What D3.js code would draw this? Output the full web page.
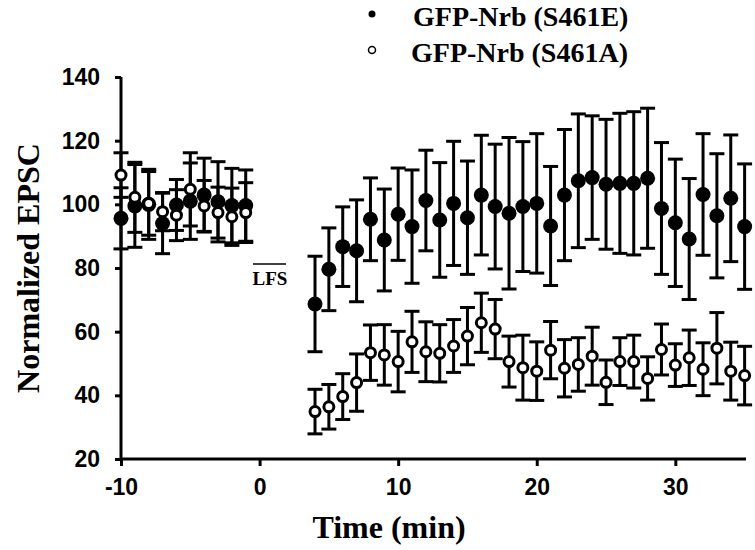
<!DOCTYPE html>
<html><head><meta charset="utf-8">
<script src="https://cdn.jsdelivr.net/npm/d3@7"></script>
<style>html,body{margin:0;padding:0;background:#fff;}</style>
</head><body><svg id="c" width="755" height="550"></svg>
<script>
const time = [-10,-9,-8,-7,-6,-5,-4,-3,-2,-1,4,5,6,7,8,9,10,11,12,13,14,15,16,17,18,19,20,21,22,23,24,25,26,27,28,29,30,31,32,33,34,35];
const eMean = [95.6,99.5,100,94,99.8,101,102.9,100.8,99.6,99.6,68.7,79.6,86.7,85.4,95.3,88.8,96.9,93,101.2,95.1,100.3,95.8,102.9,99.3,97.2,99.3,100.3,93.2,102.9,107.4,108.4,106.3,106.6,106.6,108.2,98.7,94.2,89.1,103.1,96.4,101.9,93];
const eSem = [9.6,13,11,9.5,8,12,11.6,12.6,11.7,11.2,15,13,12.5,16,13,16,14.5,17.8,15.8,18,19.5,17.8,18.8,19.6,23.8,20.4,21.9,18.7,20.6,21,19.4,20.4,22,22.5,22,20.7,20,19,19.1,19.5,19.9,19.7];
const aMean = [109.2,102.2,100.3,97.7,96.6,104.7,99.5,97.4,96.1,97.4,34.9,36.4,39.6,44,53.4,52.7,50.6,56.8,53.7,53.2,55.5,58.6,62.8,60.8,50.6,48.7,47.6,54.2,48.5,49.7,52.3,44.1,50.6,50.6,45.3,54.4,49.5,51.8,48.2,54.8,47.6,46.2];
const aSem = [7,11,10,6,8,11.5,8,8,9,9.4,7,7,7.2,9,8.7,9.5,9.5,9.6,9.4,9,8.3,9,9.3,9.3,8,10.2,9.2,9,9,8.4,9.1,7,7.5,8.3,6.8,8,6.7,8.7,8.3,11.2,9.1,9.2];
const xTicks = [-10,0,10,20,30];
const yTicks = [20,40,60,80,100,120,140];
const seriesNames = ["GFP-Nrb (S461E)","GFP-Nrb (S461A)"];

const svg = d3.select("#c");
const x = d3.scaleLinear().domain([-10,35.1]).range([121,746]);
const y = d3.scaleLinear().domain([20,140]).range([459,77]);
const serif = "'Liberation Serif','Times New Roman',serif";
const sans = "'Liberation Sans',Arial,sans-serif";
const fmt = d => String(d);

// axes
const yAxis = svg.append("g").attr("transform","translate(121,0)")
  .call(d3.axisLeft(y).tickValues(yTicks).tickSize(6).tickPadding(15).tickFormat(fmt));
const xAxis = svg.append("g").attr("transform","translate(0,459)")
  .call(d3.axisBottom(x).tickValues(xTicks).tickSize(7).tickPadding(13).tickFormat(fmt));
[yAxis,xAxis].forEach(a=>{
  a.select(".domain").attr("stroke","#000").attr("stroke-width",3);
  a.selectAll(".tick line").attr("stroke","#000").attr("stroke-width",3);
  a.selectAll(".tick text").attr("fill","#000").style("font-family",sans).style("font-weight","bold").style("font-size","23px");
});
yAxis.select(".domain").attr("d","M0,77V459");
xAxis.select(".domain").attr("d","M121,0H746");

// data
const data = time.map((t,i)=>({t, e:eMean[i], es:eSem[i], a:aMean[i], as:aSem[i]}));

function errBars(key, semKey, cap){
  const g = svg.append("g").attr("stroke","#000").attr("stroke-width",3);
  data.forEach(d=>{
    const cx = x(d.t), y1 = y(d[key]+d[semKey]), y2 = y(d[key]-d[semKey]);
    g.append("line").attr("x1",cx).attr("x2",cx).attr("y1",y1).attr("y2",y2);
    g.append("line").attr("x1",cx-cap).attr("x2",cx+cap).attr("y1",y1).attr("y2",y1);
    g.append("line").attr("x1",cx-cap).attr("x2",cx+cap).attr("y1",y2).attr("y2",y2);
  });
}
errBars("e","es",7.5);
errBars("a","as",7.5);
svg.append("g").selectAll("circle").data(data).join("circle")
  .attr("cx",d=>x(d.t)).attr("cy",d=>y(d.e)).attr("r",7.5).attr("fill","#000");
svg.append("g").selectAll("circle").data(data).join("circle")
  .attr("cx",d=>x(d.t)).attr("cy",d=>y(d.a)).attr("r",5).attr("fill","#fff").attr("stroke","#000").attr("stroke-width",3);

// LFS marker
svg.append("line").attr("x1",253).attr("x2",286).attr("y1",264).attr("y2",264).attr("stroke","#000").attr("stroke-width",1.5);
svg.append("text").attr("x",270).attr("y",285).attr("text-anchor","middle")
  .style("font-family",serif).style("font-weight","bold").style("font-size","19px").text("LFS");

// titles
svg.append("text").attr("x",389).attr("y",538).attr("text-anchor","middle")
  .style("font-family",serif).style("font-weight","bold").style("font-size","32px").text("Time (min)");
svg.append("text").attr("transform","translate(39,268) rotate(-90)").attr("text-anchor","middle")
  .style("font-family",serif).style("font-weight","bold").style("font-size","32px").text("Normalized EPSC");

// legend
svg.append("circle").attr("cx",372).attr("cy",14).attr("r",3.5).attr("fill","#000");
svg.append("circle").attr("cx",372).attr("cy",50).attr("r",3.5).attr("fill","#fff").attr("stroke","#000").attr("stroke-width",1.5);
svg.append("text").attr("x",413).attr("y",26).style("font-family",serif).style("font-weight","bold").style("font-size","28px").text(seriesNames[0]);
svg.append("text").attr("x",411).attr("y",62).style("font-family",serif).style("font-weight","bold").style("font-size","28px").text(seriesNames[1]);
</script></body></html>
